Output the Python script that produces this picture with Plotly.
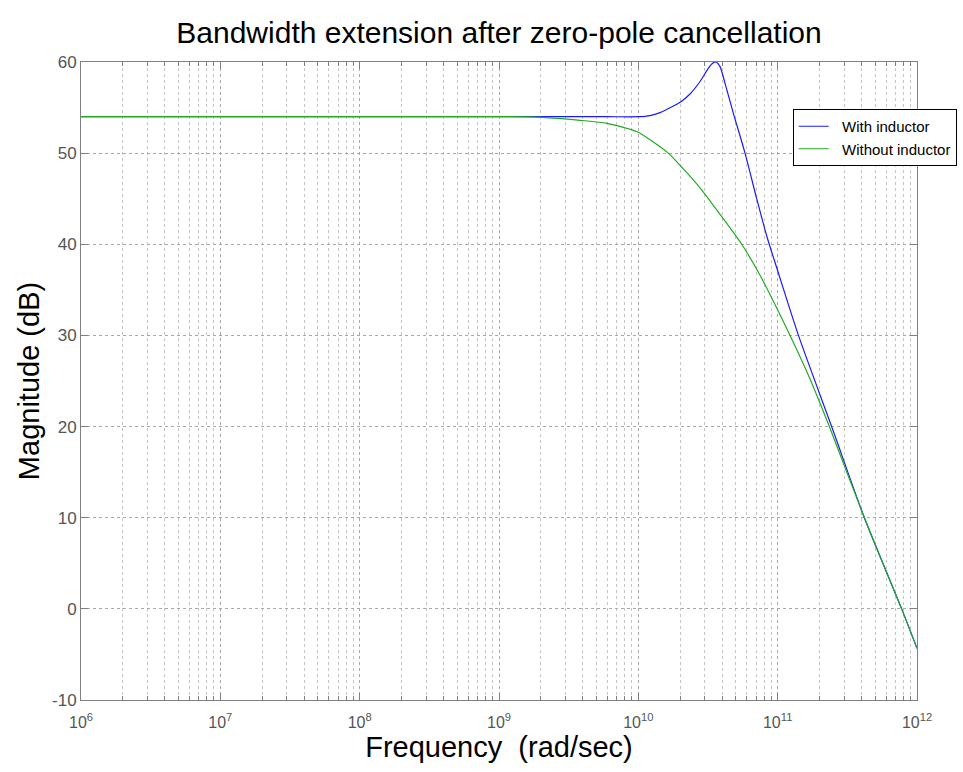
import plotly.graph_objects as go

# ---- data ----
freq_with = [1e6, 1e7, 1e8, 1e9, 3e9, 6e9, 1e10, 1.213e10, 1.432e10, 1.69e10, 1.995e10,
             2.35e10, 2.77e10, 3.16e10, 3.38e10, 3.59e10, 3.85e10, 4.19e10, 4.81e10,
             5.83e10, 7.07e10, 8.39e10, 1e11, 1.41e11, 2.44e11, 4.19e11, 7.76e11, 1e12]
mag_with = [54.0, 54.0, 54.0, 54.0, 54.0, 54.0, 54.0, 54.12, 54.45, 54.98, 55.58,
            56.49, 57.86, 59.24, 59.8, 60.0, 59.52, 57.66, 54.37,
            50.0, 45.0, 40.8, 37.1, 30.0, 20.0, 10.0, 0.0, -4.33]

freq_without = [1e6, 1e7, 1e8, 1e9, 1.615e9, 2.61e9, 3.81e9, 5.96e9, 9.79e9, 1.25e10,
                1.64e10, 1.995e10, 2.77e10, 3.85e10, 5.52e10, 7.47e10, 1.227e11,
                1.71e11, 2.35e11, 4.19e11, 7.76e11, 1e12]
mag_without = [54.0, 54.0, 54.0, 54.0, 53.98, 53.82, 53.6, 53.27, 52.35, 51.33,
               50.0, 48.65, 46.2, 43.3, 40.0, 36.6, 30.0,
               25.2, 20.0, 10.0, 0.0, -4.33]

x_tick_vals = [1e6, 1e7, 1e8, 1e9, 1e10, 1e11, 1e12]
x_tick_text = ["10<sup>6</sup>", "10<sup>7</sup>", "10<sup>8</sup>", "10<sup>9</sup>",
               "10<sup>10</sup>", "10<sup>11</sup>", "10<sup>12</sup>"]
y_tick_vals = [-10, 0, 10, 20, 30, 40, 50, 60]
y_tick_text = ["-10", "0", "10", "20", "30", "40", "50", "60"]
minor_vals = [k * 10 ** e for e in range(6, 12) for k in range(2, 10)]

FONT = "Liberation Sans, Arial, Helvetica, sans-serif"

fig = go.Figure()
fig.add_trace(go.Scatter(x=freq_with, y=mag_with, mode="lines",
                         name="\u00a0\u00a0With inductor",
                         line=dict(color="#1a1aff", width=1.2, shape="spline", smoothing=0.7)))
fig.add_trace(go.Scatter(x=freq_without, y=mag_without, mode="lines",
                         name="\u00a0\u00a0Without inductor",
                         line=dict(color="#22aa22", width=1.2, shape="spline", smoothing=0.7)))

axis_common = dict(
    showline=True, linecolor="#808080", linewidth=1, mirror="ticks",
    ticks="inside", ticklen=7, tickcolor="#808080",
    showgrid=True, gridcolor="#a8a8a8", griddash="dot", gridwidth=1,
    zeroline=False,
)

fig.update_xaxes(
    type="log", range=[6, 12], tickvals=x_tick_vals, ticktext=x_tick_text,
    tickfont=dict(size=16, color="#555555", family=FONT), ticklabelstandoff=8,
    minor=dict(tickvals=minor_vals, ticks="inside", ticklen=4, tickcolor="#808080",
               showgrid=True, gridcolor="#c4c4c4", griddash="dot"),
    title=dict(text="Frequency\u00a0 (rad/sec)", font=dict(size=29, color="black", family=FONT),
               standoff=2),
    **axis_common,
)
fig.update_yaxes(
    range=[-10, 60], tickvals=y_tick_vals, ticktext=y_tick_text,
    tickfont=dict(size=17, color="#555555", family=FONT),
    title=dict(text="Magnitude (dB)", font=dict(size=29, color="black", family=FONT),
               standoff=3),
    **axis_common,
)

fig.update_layout(
    width=963, height=772,
    margin=dict(l=81, r=46, t=62, b=72, autoexpand=False),
    paper_bgcolor="white", plot_bgcolor="white",
    font=dict(family=FONT),
    title=dict(text="Bandwidth extension after zero-pole cancellation",
               x=0.5, xref="paper", xanchor="center",
               y=1 - 32 / 772, yref="container", yanchor="middle",
               font=dict(size=30, color="black", family=FONT)),
    legend=dict(x=0.8513, y=0.9263, xanchor="left", yanchor="top",
                bgcolor="white", bordercolor="black", borderwidth=1,
                font=dict(size=15, color="black", family=FONT),
                tracegroupgap=0, itemwidth=30),
    showlegend=True,
)

fig.write_html("out.html")
